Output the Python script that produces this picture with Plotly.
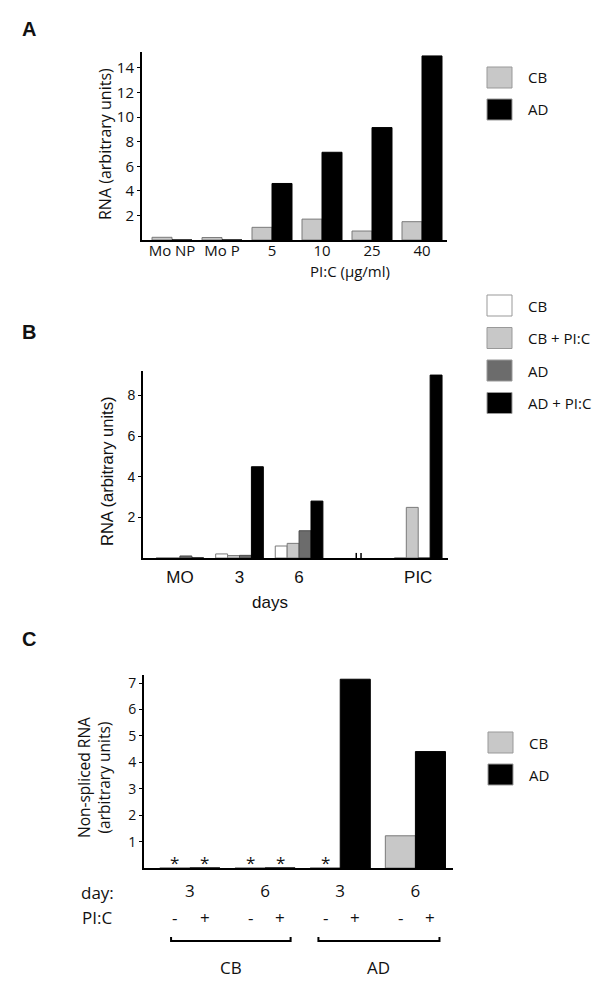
import plotly.graph_objects as go

W, H = 602, 987

# ---------------- data ----------------
# Panel A
a_categories = ["Mo NP", "Mo P", "5", "10", "25", "40"]
a_cb = [0.22, 0.2, 1.03, 1.7, 0.73, 1.49]
a_ad = [0, 0, 4.6, 7.14, 9.15, 14.98]
a_yticks = [2, 4, 6, 8, 10, 12, 14]

# Panel B
b_categories = ["MO", "3", "6", "PIC"]
b_positions = [0, 1, 2, 4]
b_cb = [0, 0.2, 0.59, 0]
b_cb_pic = [0, 0.12, 0.72, 2.49]
b_ad = [0.1, 0.13, 1.34, 0]
b_ad_pic = [0, 4.49, 2.8, 9.0]
b_yticks = [2, 4, 6, 8]

# Panel C
c_days = ["3", "6", "3", "6"]
c_minus = [0, 0, 0, 1.22]   # PI:C -
c_plus = [0, 0, 7.15, 4.41]  # PI:C +
c_yticks = [1, 2, 3, 4, 5, 6, 7]
c_groups = ["CB", "AD"]

# ---------------- styles ----------------
GRAY = "#c8c8c8"
GRAY_LINE = "#7a7a7a"
DARK = "#6c6c6c"
BLACK = "#000000"
TXT = "#111111"
MYR = "Open Sans, Noto Sans, sans-serif"
ARI = "Liberation Sans, Arial, sans-serif"


def px(x):
    return x / W


def py(y):
    return 1 - y / H


fig = go.Figure()

# Panel A bars
ax_pos = list(range(len(a_categories)))
fig.add_trace(go.Bar(x=ax_pos, y=a_cb, name="CB", xaxis="x", yaxis="y",
                     marker=dict(color=GRAY, line=dict(color=GRAY_LINE, width=1))))
fig.add_trace(go.Bar(x=ax_pos, y=a_ad, name="AD", xaxis="x", yaxis="y",
                     marker=dict(color=BLACK, line=dict(color=BLACK, width=1))))

# Panel B bars
fig.add_trace(go.Bar(x=b_positions, y=b_cb, name="CB", xaxis="x2", yaxis="y2",
                     marker=dict(color="#ffffff", line=dict(color=GRAY_LINE, width=1))))
fig.add_trace(go.Bar(x=b_positions, y=b_cb_pic, name="CB + PI:C", xaxis="x2", yaxis="y2",
                     marker=dict(color=GRAY, line=dict(color=GRAY_LINE, width=1))))
fig.add_trace(go.Bar(x=b_positions, y=b_ad, name="AD", xaxis="x2", yaxis="y2",
                     marker=dict(color=DARK, line=dict(color="#4a4a4a", width=1))))
fig.add_trace(go.Bar(x=b_positions, y=b_ad_pic, name="AD + PI:C", xaxis="x2", yaxis="y2",
                     marker=dict(color=BLACK, line=dict(color=BLACK, width=1))))

# Panel C bars
c_pos = list(range(len(c_days)))
fig.add_trace(go.Bar(x=c_pos, y=c_minus, name="CB", xaxis="x3", yaxis="y3",
                     marker=dict(color=GRAY, line=dict(color=GRAY_LINE, width=1))))
fig.add_trace(go.Bar(x=c_pos, y=c_plus, name="AD", xaxis="x3", yaxis="y3",
                     marker=dict(color=BLACK, line=dict(color=BLACK, width=1))))

axis_common = dict(showline=True, linecolor="black", linewidth=2, showgrid=False,
                   zeroline=False, automargin=False, fixedrange=True)

fig.update_layout(
    width=W, height=H,
    margin=dict(l=0, r=0, t=0, b=0),
    paper_bgcolor="white", plot_bgcolor="white",
    showlegend=False,
    barmode="group", bargap=0.2, bargroupgap=0,
    xaxis=dict(domain=[px(142), px(447)], anchor="y", range=[-0.6, 5.5],
               tickmode="array", tickvals=ax_pos, ticktext=a_categories, ticks="",
               tickfont=dict(family=MYR, size=15, color=TXT), ticklabelstandoff=-4,
               **axis_common),
    yaxis=dict(domain=[py(240), py(52)], anchor="x", range=[0, 15.3],
               tickmode="array", tickvals=a_yticks, ticks="outside", ticklen=3,
               tickcolor="black", tickfont=dict(family=MYR, size=15, color=TXT),
               **axis_common),
    xaxis2=dict(domain=[px(143), px(448)], anchor="y2", range=[-0.62, 4.5],
                tickmode="array", tickvals=b_positions, ticktext=b_categories, ticks="",
                tickfont=dict(family=ARI, size=17, color=TXT), ticklabelstandoff=3,
                **axis_common),
    yaxis2=dict(domain=[py(558), py(371)], anchor="x2", range=[0, 9.2],
                tickmode="array", tickvals=b_yticks, ticks="outside", ticklen=3,
                tickcolor="black", tickfont=dict(family=ARI, size=14, color=TXT),
                **axis_common),
    xaxis3=dict(domain=[px(144), px(453)], anchor="y3", range=[-0.61, 3.5],
                tickmode="array", tickvals=c_pos, ticktext=c_days, ticks="",
                tickfont=dict(family=MYR, size=17, color=TXT), ticklabelstandoff=7,
                **axis_common),
    yaxis3=dict(domain=[py(868), py(675)], anchor="x3", range=[0, 7.31],
                tickmode="array", tickvals=c_yticks, ticks="outside", ticklen=3,
                tickcolor="black", tickfont=dict(family=MYR, size=14, color=TXT),
                **axis_common),
)

ann = []
shapes = []


def text(x, y, s, font=MYR, size=15, xanchor="center", angle=0, bold=False,
         xref="paper", yref="paper"):
    ann.append(dict(x=x, y=y, xref=xref, yref=yref, text=("<b>%s</b>" % s) if bold else s,
                    showarrow=False, xanchor=xanchor, yanchor="middle", textangle=angle,
                    font=dict(family=font, size=size, color=TXT)))


# Panel letters
text(px(20), py(29), "A", font=ARI, size=20, xanchor="left", bold=True)
text(px(20), py(332), "B", font=ARI, size=20, xanchor="left", bold=True)
text(px(20), py(639), "C", font=ARI, size=20, xanchor="left", bold=True)

# Axis titles
text(px(105), py(144), "RNA (arbitrary units)", font=MYR, size=16, angle=-90)
text(px(350), py(271), "PI:C (µg/ml)", font=MYR, size=15)
text(px(107), py(472), "RNA (arbitrary units)", font=ARI, size=16.5, angle=-90)
text(px(270), py(602), "days", font=ARI, size=17)
text(px(94), py(778), "Non-spliced RNA<br>(arbitrary units)", font=MYR, size=15.5, angle=-90)


def legend(x0, y_top, labels, fills, step=32.5):
    for i, (lab, fc) in enumerate(zip(labels, fills)):
        t = y_top + i * step
        shapes.append(dict(type="rect", xref="paper", yref="paper",
                           x0=px(x0), x1=px(x0 + 25), y0=py(t), y1=py(t + 21),
                           fillcolor=fc, line=dict(color="#999999", width=1)))
        text(px(x0 + 39), py(t + 10.5), lab, font=MYR, size=15, xanchor="left")


legend(487, 67, ["CB", "AD"], [GRAY, BLACK], step=32)
legend(487, 295, ["CB", "CB + PI:C", "AD", "AD + PI:C"], ["#ffffff", GRAY, DARK, BLACK])
legend(488, 732, ["CB", "AD"], [GRAY, BLACK], step=32)

# Axis break in panel B
for dx in (-0.04, 0.04):
    shapes.append(dict(type="line", xref="x2", yref="y2", x0=3 + dx, x1=3 + dx,
                       y0=-0.34, y1=0.25, line=dict(color="black", width=1.5)))

# Panel C: asterisks for zero values, +/- labels, brackets
for i in c_pos:
    for off, vals, sign in ((-0.2, c_minus, "-"), (0.2, c_plus, "+")):
        if vals[i] == 0:
            text(i + off, 0.22, "*", font=MYR, size=17, xref="x3", yref="y3")
        text(i + off, py(917), sign, font=MYR, size=17, xref="x3")

text(px(97), py(892), "day:", font=MYR, size=17)
text(px(97), py(917), "PI:C", font=MYR, size=17)

for (a, b, lab) in ((-0.25, 1.34, c_groups[0]), (1.71, 3.32, c_groups[1])):
    shapes.append(dict(type="path", xref="x3", yref="paper",
                       path="M %f,%f L %f,%f L %f,%f L %f,%f" % (a, py(937), a, py(941),
                                                             b, py(941), b, py(937)),
                       line=dict(color="black", width=2)))
    text((a + b) / 2, py(967), lab, font=MYR, size=17, xref="x3")

fig.update_layout(annotations=ann, shapes=shapes)
fig.write_html("out.html",
               config={"displayModeBar": False},
               post_script="document.body.style.margin='0px';document.body.style.padding='0px';")
